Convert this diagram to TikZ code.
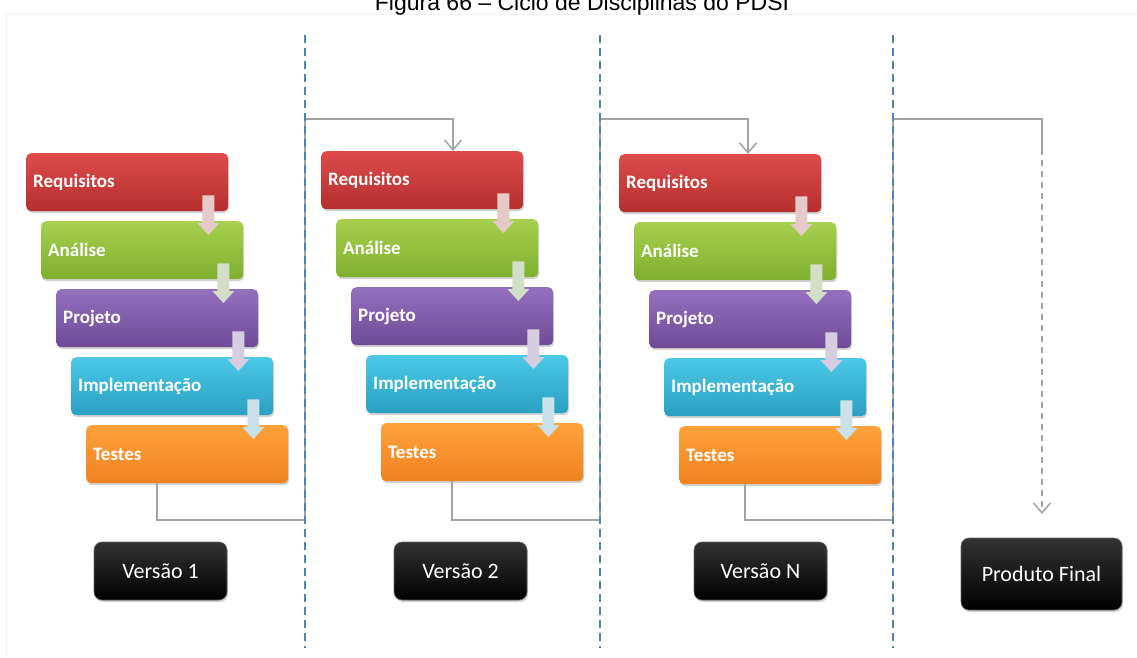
\documentclass[tikz,border=0pt]{standalone}
\usepackage{fontspec}
\setmainfont{Liberation Sans}
\newfontfamily\carlito{Carlito}
\usetikzlibrary{calc,shadows,arrows.meta}
\definecolor{dashblue}{HTML}{4F81BD}
\definecolor{conngray}{HTML}{A3A3A3}
\definecolor{redT}{HTML}{DE4B4B}\definecolor{redB}{HTML}{B52E2E}
\definecolor{grnT}{HTML}{A6D04E}\definecolor{grnB}{HTML}{7FAF2F}
\definecolor{purT}{HTML}{9470BE}\definecolor{purB}{HTML}{6E4A97}
\definecolor{cyaT}{HTML}{4CC8E6}\definecolor{cyaB}{HTML}{2A9FC1}
\definecolor{orgT}{HTML}{FFA23A}\definecolor{orgB}{HTML}{EF8220}
\definecolor{arr1}{HTML}{E6CACA}\definecolor{arr2}{HTML}{D3DEC6}
\definecolor{arr3}{HTML}{D7CDE0}\definecolor{arr4}{HTML}{C9E2E9}
\tikzset{
  phase/.style={rounded corners=5pt, minimum width=202pt, minimum height=58pt,
    text width=188pt, align=left, inner xsep=7pt, inner ysep=0pt,
    font=\carlito\bfseries\fontsize{19}{21}\selectfont, text=white, anchor=north west,
    drop shadow={opacity=0.35, shadow xshift=1pt, shadow yshift=-2pt}},
  reqbox/.style={phase, top color=redT, bottom color=redB},
  anabox/.style={phase, top color=grnT, bottom color=grnB},
  projbox/.style={phase, top color=purT, bottom color=purB},
  implbox/.style={phase, top color=cyaT, bottom color=cyaB},
  testbox/.style={phase, top color=orgT, bottom color=orgB},
  verbox/.style={rounded corners=8pt, minimum width=133pt, minimum height=58pt,
    top color=black!80, bottom color=black, draw=black!60, line width=0.6pt,
    text=white, font=\carlito\fontsize{22}{24}\selectfont,
    drop shadow={opacity=0.35, shadow xshift=1pt, shadow yshift=-2pt}},
  sepline/.style={dashblue, line width=1.6pt, dash pattern=on 8pt off 5pt},
  conn/.style={conngray, line width=1.8pt},
  connarrow/.style={conn, -{Straight Barb[length=10pt, width=17pt, line width=1.5pt]}},
}
\newcommand{\blockarrow}[3]{%
  \fill[#3] let \p1=($(#1.south east)+(-20,-16)$), \p2=($(#2.north east)+(-35,14)$) in
    (\x1-6pt,\y1) -- (\x1+6pt,\y1) -- (\x1+6pt,\y2+12pt) -- (\x1+11pt,\y2+12pt)
    -- (\x1,\y2) -- (\x1-11pt,\y2+12pt) -- (\x1-6pt,\y2+12pt) -- cycle;}
\begin{document}
\begin{tikzpicture}[x=1pt, y=-1pt]
\useasboundingbox (0,0) rectangle (1137,657);
\fill[white] (0,0) rectangle (1137,657);
% faint frame
\draw[black!5, line width=1pt] (6,657) -- (6,14) -- (1137,14);
% title (cut at the top, as in the reference)
\node[anchor=base, font=\fontsize{23}{25}\selectfont, inner sep=0pt] (title) at (582,10) {Figura 66 – Ciclo de Disciplinas do PDSI};
% phase boxes
\foreach \g/\x/\y in {1/26/153, 2/321/151, 3/619/154}{
  \node[reqbox]  (r\g) at (\x,\y) {Requisitos};
  \node[anabox]  (a\g) at (\x+15,\y+68) {Análise};
  \node[projbox] (p\g) at (\x+30,\y+136) {Projeto};
  \node[implbox] (i\g) at (\x+45,\y+204) {Implementação};
  \node[testbox] (t\g) at (\x+60,\y+272) {Testes};
  \blockarrow{r\g}{a\g}{arr1}
  \blockarrow{a\g}{p\g}{arr2}
  \blockarrow{p\g}{i\g}{arr3}
  \blockarrow{i\g}{t\g}{arr4}
}
% version boxes
\node[verbox] (v1) at (160.5,571) {Versão 1};
\node[verbox] (v2) at (460.5,571) {Versão 2};
\node[verbox] (vn) at (760.5,571) {Versão N};
\node[verbox, minimum width=161pt, minimum height=72pt] (pf) at (1041.5,574) {Produto Final};
% connector corner coordinates
\coordinate (c1b) at (305,520); \coordinate (c1t) at (305,119);
\coordinate (c2b) at (600,520); \coordinate (c2t) at (600,119);
\coordinate (c3b) at (893,520); \coordinate (c3t) at (893,119);
\coordinate (f1) at (1042,119); \coordinate (f2) at (1042,514);
% gray connectors
\draw[connarrow] ($(t1.south west)+(71,0)$) |- (c1b) -- (c1t) -| ($(r2.north west)+(132,0)$);
\draw[connarrow] ($(t2.south west)+(71,0)$) |- (c2b) -- (c2t) -| ($(r3.north west)+(129,0)$);
\draw[conn] ($(t3.south west)+(66,0)$) |- (c3b) -- (c3t) -- (f1) -- ++(0,30);
\draw[connarrow, dash pattern=on 6pt off 5pt] ($(f1)+(0,30)$) -- (f2);
% blue dashed separators
\coordinate (s1t) at (305,35); \coordinate (s1b) at (305,648);
\coordinate (s2t) at (600,35); \coordinate (s2b) at (600,648);
\coordinate (s3t) at (893,35); \coordinate (s3b) at (893,648);
\draw[sepline] (s1t) -- (s1b);
\draw[sepline] (s2t) -- (s2b);
\draw[sepline] (s3t) -- (s3b);
\end{tikzpicture}
\end{document}
